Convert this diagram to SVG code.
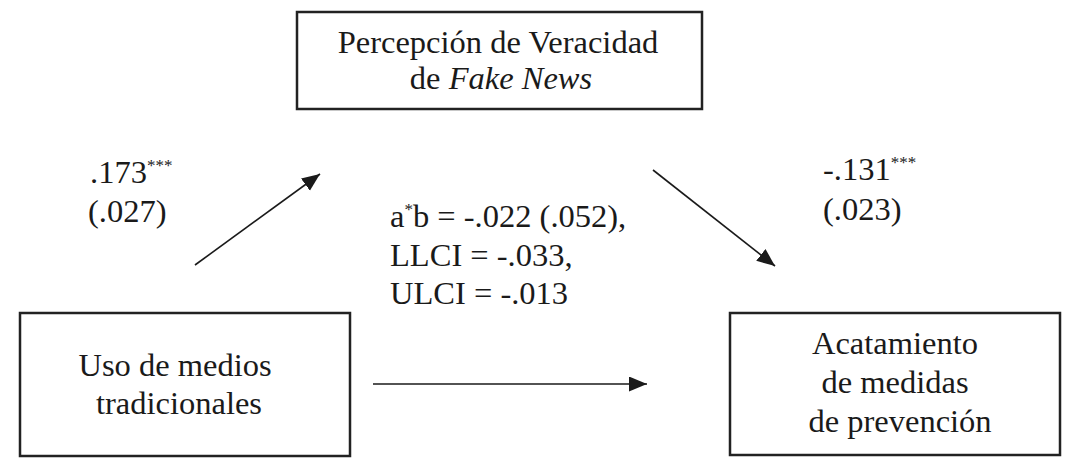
<svg xmlns="http://www.w3.org/2000/svg" width="1068" height="462" viewBox="0 0 1068 462">
<style>
.box{fill:#fff;stroke:#222;stroke-width:2.5}
.t{font-family:"Liberation Serif","Times New Roman",serif;font-size:32.5px;fill:#1a1a1a}
.c{text-anchor:middle}
.sup{font-size:17px}
.ln{stroke:#1a1a1a;stroke-width:1.6;fill:none}
</style>
<defs>
<marker id="ah" markerUnits="userSpaceOnUse" markerWidth="20" markerHeight="16" refX="18" refY="7.5" orient="auto">
<path d="M0,0 L18,7.5 L0,15 z" fill="#1a1a1a"/>
</marker>
</defs>
<rect width="1068" height="462" fill="#fff"/>
<g id="node-percepcion">
<rect class="box" x="297" y="12" width="405" height="97"/>
<text class="t c" x="498" y="53">Percepción de Veracidad</text>
<text class="t c" x="501" y="89">de <tspan font-style="italic">Fake News</tspan></text>
</g>
<g id="node-uso">
<rect class="box" x="20" y="313" width="330" height="143"/>
<text class="t c" x="175" y="376">Uso de medios</text>
<text class="t c" x="179" y="414">tradicionales</text>
</g>
<g id="node-acatamiento">
<rect class="box" x="730" y="313" width="330" height="142"/>
<text class="t c" x="895" y="354">Acatamiento</text>
<text class="t c" x="895" y="393">de medidas</text>
<text class="t c" x="900" y="432">de prevención</text>
</g>
<g id="connectors">
<line class="ln" x1="195" y1="265" x2="320" y2="174" marker-end="url(#ah)"/>
<line class="ln" x1="653" y1="170" x2="775" y2="266" marker-end="url(#ah)"/>
<line class="ln" x1="373" y1="384" x2="647" y2="384" stroke-width="2" marker-end="url(#ah)"/>
</g>
<g id="labels">
<text class="t" x="90" y="183">.173<tspan class="sup" dy="-12">***</tspan></text>
<text class="t" x="88" y="222">(.027)</text>
<text class="t" x="390" y="227">a<tspan class="sup" dy="-12">*</tspan><tspan dy="12">b = -.022 (.052),</tspan></text>
<text class="t" x="390" y="266">LLCI = -.033,</text>
<text class="t" x="390" y="304">ULCI = -.013</text>
<text class="t" x="823" y="180">-.131<tspan class="sup" dy="-12">***</tspan></text>
<text class="t" x="823" y="220">(.023)</text>
</g>
</svg>
